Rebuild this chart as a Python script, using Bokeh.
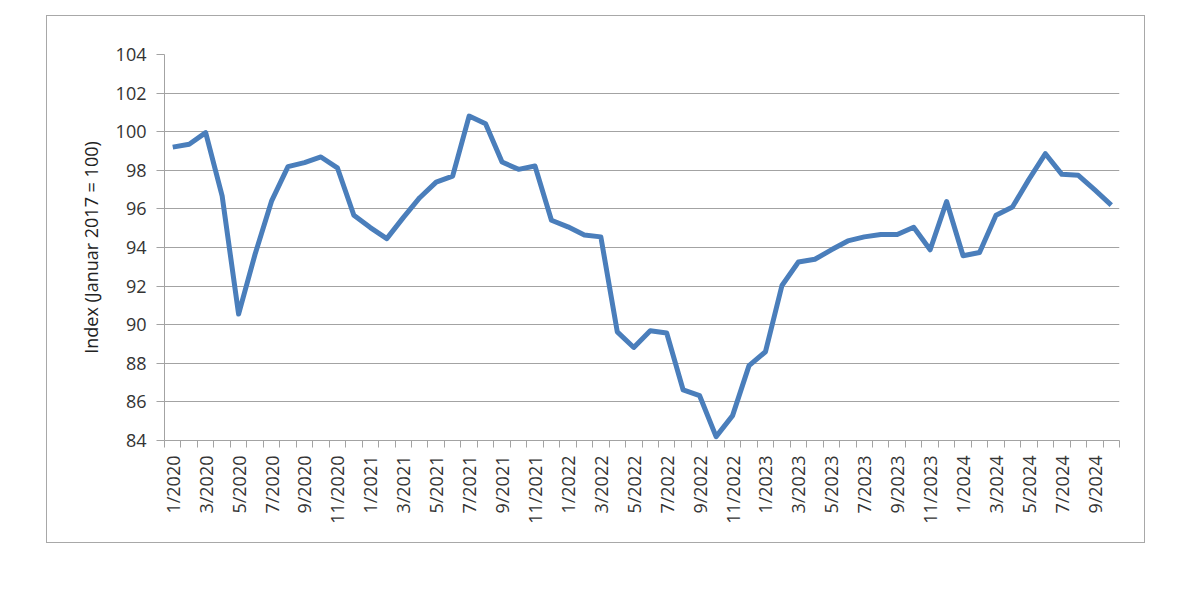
import math
from bokeh.plotting import figure
from bokeh.models import FixedTicker, Range1d
from bokeh.embed import file_html
from bokeh.resources import INLINE

years = [2020, 2021, 2022, 2023, 2024]
months = [f"{m}/{y}" for y in years for m in range(1, 13)][:58]

values = [99.2, 99.35, 99.95, 96.67, 90.55, 93.65, 96.4, 98.19, 98.4, 98.69,
          98.13, 95.67, 95.03, 94.46, 95.55, 96.58, 97.39, 97.7, 100.81, 100.41,
          98.43, 98.05, 98.22, 95.41, 95.07, 94.65, 94.55, 89.63, 88.82, 89.69,
          89.57, 86.62, 86.32, 84.2, 85.29, 87.88, 88.6, 92.03, 93.25, 93.39,
          93.88, 94.34, 94.55, 94.67, 94.67, 95.05, 93.88, 96.38, 93.57, 93.74,
          95.67, 96.1, 97.53, 98.86, 97.79, 97.74, 96.98, 96.2]

y_ticks = list(range(84, 105, 2))

x = list(range(len(values)))
FONT = "Open Sans"
GRAY = "#a3a3a3"
TXT = "#333333"

p = figure(width=1099, height=528, output_backend="svg", toolbar_location=None,
           x_range=Range1d(-0.5, len(values) - 0.5), y_range=Range1d(84, 104))
p.margin = (15, 0, 0, 46)
p.styles = {"border": "1.5px solid #a8a8a8", "box-sizing": "border-box"}
p.min_border_left = 117
p.min_border_top = 38
p.min_border_right = 27
p.min_border_bottom = 104
p.outline_line_color = None
p.background_fill_color = "white"
p.border_fill_color = "white"

p.line(x, values, line_color="#4a7ebb", line_width=5, line_join="round")

# y axis
p.yaxis.ticker = FixedTicker(ticks=y_ticks)
p.yaxis.axis_line_color = GRAY
p.yaxis.major_tick_line_color = GRAY
p.yaxis.major_tick_out = 8
p.yaxis.major_tick_in = 0
p.yaxis.minor_tick_line_color = None
p.yaxis.major_label_text_font = FONT
p.yaxis.major_label_text_font_size = "18px"
p.yaxis.major_label_text_color = TXT
p.yaxis.major_label_standoff = 10
p.yaxis.axis_label = "Index (Januar 2017 = 100)"
p.yaxis.axis_label_text_font = FONT
p.yaxis.axis_label_text_font_size = "18px"
p.yaxis.axis_label_text_font_style = "normal"
p.yaxis.axis_label_text_color = "#222222"
p.yaxis.axis_label_standoff = 10

p.ygrid.grid_line_color = GRAY
p.ygrid.grid_line_width = 1.2
p.xgrid.grid_line_color = None

# x axis
label_pos = x[::2]
p.xaxis.ticker = FixedTicker(ticks=label_pos,
                             minor_ticks=[i - 0.5 for i in range(len(values) + 1)])
p.xaxis.major_label_overrides = {i: months[i] for i in label_pos}
p.xaxis.major_tick_line_color = None
p.xaxis.major_tick_out = 6
p.xaxis.minor_tick_line_color = GRAY
p.xaxis.minor_tick_out = 7
p.xaxis.minor_tick_in = 0
p.xaxis.axis_line_color = GRAY
p.xaxis.major_label_orientation = math.pi / 2
p.xaxis.major_label_text_font = FONT
p.xaxis.major_label_text_font_size = "18px"
p.xaxis.major_label_text_color = TXT
p.xaxis.major_label_standoff = 8

open("out.html", "w").write(file_html(p, INLINE))
